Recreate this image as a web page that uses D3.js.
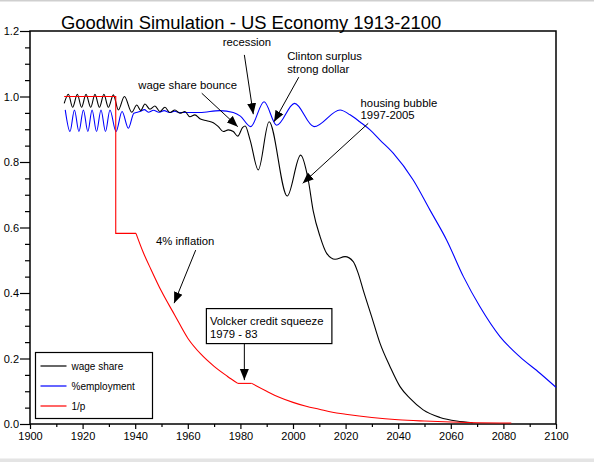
<!DOCTYPE html>
<html>
<head>
<meta charset="utf-8">
<script src="https://cdn.jsdelivr.net/npm/d3@7"></script>
<style>
  body { margin: 0; background: #fff; }
  text { font-family: "Liberation Sans", Arial, Helvetica, sans-serif; }
</style>
</head>
<body>
<svg id="chart" width="594" height="462"></svg>
<script>
// wage share (black) as [year, value]
var wageShare = [
  [1913.0, 0.979], [1914.6, 1.007], [1916.2, 0.967], [1918.0, 1.007], [1919.6, 0.967],
  [1921.3, 1.007], [1923.1, 0.967], [1924.7, 1.007], [1926.4, 0.967], [1928.1, 1.007],
  [1929.8, 0.967], [1931.7, 1.005], [1933.6, 0.959], [1935.9, 1.0], [1938.7, 0.952],
  [1940.6, 0.974], [1942.1, 0.957], [1943.7, 0.977], [1945.6, 0.961], [1947.5, 0.971],
  [1949.4, 0.954], [1951.3, 0.967], [1953.2, 0.951], [1955.1, 0.959], [1957.0, 0.949],
  [1958.9, 0.954], [1960.8, 0.938], [1962.7, 0.944], [1964.6, 0.932], [1967.2, 0.926],
  [1969.7, 0.92], [1971.6, 0.908], [1973.5, 0.893], [1975.4, 0.898], [1977.3, 0.893],
  [1979.0, 0.879], [1980.8, 0.905], [1981.8, 0.91], [1983.7, 0.867], [1986.8, 0.776],
  [1990.9, 0.923], [1997.8, 0.696], [2002.9, 0.821], [2005.8, 0.745], [2007.7, 0.65],
  [2010.3, 0.572], [2012.8, 0.521], [2016.0, 0.503], [2019.8, 0.511], [2022.9, 0.496],
  [2024.8, 0.46], [2026.7, 0.409], [2029.9, 0.328], [2033.1, 0.246], [2036.9, 0.175],
  [2040.7, 0.114], [2044.5, 0.078], [2049.5, 0.043], [2055.9, 0.020], [2062.2, 0.009],
  [2068.3, 0.004]
];

// %employment (blue)
var employment = [
  [1913.4, 0.959], [1915.2, 0.893], [1916.9, 0.959], [1918.6, 0.893], [1920.3, 0.959],
  [1922.0, 0.893], [1923.6, 0.959], [1925.3, 0.893], [1927.0, 0.959], [1928.7, 0.893],
  [1930.4, 0.959], [1932.7, 0.893], [1935.0, 0.954], [1937.4, 0.903], [1939.5, 0.949],
  [1941.8, 0.954], [1943.5, 0.96], [1945.0, 0.952], [1947.0, 0.958], [1949.0, 0.952],
  [1951.0, 0.957], [1953.0, 0.951], [1955.0, 0.955], [1957.0, 0.951], [1964.6, 0.951],
  [1972.2, 0.957], [1977.3, 0.951], [1980.0, 0.94], [1983.9, 0.908], [1989.0, 0.984],
  [1993.8, 0.912], [2000.6, 0.979], [2008.0, 0.908], [2017.9, 0.959], [2021.7, 0.944],
  [2025.5, 0.922], [2029.3, 0.898], [2033.1, 0.867], [2038.1, 0.827], [2045.7, 0.745],
  [2052.1, 0.653], [2058.4, 0.562], [2064.8, 0.450], [2071.1, 0.358], [2078.7, 0.267],
  [2086.3, 0.205], [2093.9, 0.155], [2100.0, 0.112]
];

// 1/p (red): flat, drop, flat, decline, Volcker flat, decline
var invPriceSteps = [
  [[1913, 1.0], [1932.6, 1.0], [1932.6, 0.582], [1940.3, 0.582]],
  [[1979, 0.124], [1984.3, 0.124]]
];
var invPriceCurves = [
  [[1940.3, 0.582], [1943, 0.525], [1946, 0.472], [1950, 0.405], [1955, 0.333],
   [1960, 0.262], [1965, 0.213], [1970, 0.176], [1975, 0.146], [1979, 0.124]],
  [[1984.3, 0.124], [1990, 0.1], [1995, 0.081], [2000, 0.066], [2005, 0.054],
   [2010, 0.045], [2015, 0.036], [2020, 0.03], [2030, 0.02], [2040, 0.013],
   [2050, 0.009], [2060, 0.006], [2070, 0.004], [2083, 0.003]]
];

var seriesNames = ["wage share", "%employment", "1/p"];
var seriesColors = ["#000000", "#0000ff", "#ff0000"];

var xMajor = d3.range(1900, 2101, 20);
var xMinor = d3.range(1910, 2100, 20);
var yMajor = [0, 0.2, 0.4, 0.6, 0.8, 1.0, 1.2];
var yMinor = d3.range(0.05, 1.2, 0.05).filter(function(v) { return Math.abs(v * 5 - Math.round(v * 5)) > 0.01; });

// annotation texts, anchored in data coordinates
var notes = [
  { lines: ["wage share bounce"], x: 1941.2, y: 1.023 },
  { lines: ["recession"], x: 1973.3, y: 1.154 },
  { lines: ["Clinton surplus", "strong dollar"], x: 1997.8, y: 1.111 },
  { lines: ["housing bubble", "1997-2005"], x: 2025.7, y: 0.968 },
  { lines: ["4% inflation"], x: 1947.9, y: 0.547 },
  { lines: ["Volcker credit squeeze", "1979 - 83"], x: 1968.4, y: 0.302, box: true }
];
// arrows: [from, to]
var arrows = [
  [[1965.3, 1.010], [1979.0, 0.908]],
  [[1981.5, 1.127], [1984.9, 0.946]],
  [[2002.2, 1.059], [1992.8, 0.923]],
  [[2028.6, 0.918], [2003.7, 0.735]],
  [[1963.0, 0.531], [1954.8, 0.369]],
  [[1981.5, 0.246], [1981.5, 0.134]]
];

var svg = d3.select("#chart");
var x = d3.scaleLinear().domain([1900, 2100]).range([30, 556]);
var y = d3.scaleLinear().domain([0, 1.2]).range([424, 31]);

// window frame bits
svg.append("rect").attr("x", 0).attr("y", 0).attr("width", 594).attr("height", 1.5).style("fill", "#cfcfcf");
svg.append("rect").attr("x", 0).attr("y", 458.5).attr("width", 594).attr("height", 4).style("fill", "#e4e4e4");

svg.append("text")
  .attr("x", 61).attr("y", 29)
  .style("font-size", "18.4px")
  .text("Goodwin Simulation - US Economy 1913-2100");

// axes
svg.append("g").attr("transform", "translate(0,424)")
  .call(d3.axisBottom(x).tickValues(xMajor).tickSize(5).tickPadding(3).tickFormat(d3.format("d")));
svg.append("g").attr("transform", "translate(0,424)")
  .call(d3.axisBottom(x).tickValues(xMinor).tickSize(3).tickFormat(""));
svg.append("g").attr("transform", "translate(30,0)")
  .call(d3.axisLeft(y).tickValues(yMajor).tickSize(10).tickPadding(1).tickFormat(d3.format(".1f")));
svg.append("g").attr("transform", "translate(30,0)")
  .call(d3.axisLeft(y).tickValues(yMinor).tickSize(5).tickFormat(""));
svg.selectAll(".domain").remove();
svg.selectAll(".tick line").style("stroke", "#000").style("stroke-width", 1.2);
svg.selectAll(".tick text")
  .style("font-family", "'Liberation Sans', Arial, sans-serif")
  .style("font-size", "11px").style("fill", "#000");

// plot frame
svg.append("rect")
  .attr("x", x(1900)).attr("y", y(1.2))
  .attr("width", x(2100) - x(1900)).attr("height", y(0) - y(1.2))
  .style("fill", "none").style("stroke", "#000").style("stroke-width", 1.5);

// series
var smooth = d3.line().x(function(d) { return x(d[0]); }).y(function(d) { return y(d[1]); }).curve(d3.curveMonotoneX);
var straight = d3.line().x(function(d) { return x(d[0]); }).y(function(d) { return y(d[1]); });

svg.append("path").attr("d", smooth(employment))
  .style("fill", "none").style("stroke", seriesColors[1]).style("stroke-width", 1.1);
svg.append("path").attr("d", smooth(wageShare))
  .style("fill", "none").style("stroke", seriesColors[0]).style("stroke-width", 1.1);
svg.append("g").selectAll("path").data(invPriceSteps).enter().append("path")
  .attr("d", straight)
  .style("fill", "none").style("stroke", seriesColors[2]).style("stroke-width", 1.1);
svg.append("g").selectAll("path").data(invPriceCurves).enter().append("path")
  .attr("d", smooth)
  .style("fill", "none").style("stroke", seriesColors[2]).style("stroke-width", 1.1);

// arrowhead
svg.append("defs").append("marker").attr("id", "head")
  .attr("markerUnits", "userSpaceOnUse")
  .attr("markerWidth", 12).attr("markerHeight", 10)
  .attr("viewBox", "0 -5 12 10").attr("refX", 11).attr("refY", 0)
  .attr("orient", "auto")
  .append("path").attr("d", "M0,-4.5L11,0L0,4.5Z").style("fill", "#000");

svg.append("g").selectAll("line").data(arrows).enter().append("line")
  .attr("x1", function(d) { return x(d[0][0]); })
  .attr("y1", function(d) { return y(d[0][1]); })
  .attr("x2", function(d) { return x(d[1][0]); })
  .attr("y2", function(d) { return y(d[1][1]); })
  .style("stroke", "#000").style("stroke-width", 1)
  .attr("marker-end", "url(#head)");

// annotation texts
var ng = svg.append("g").selectAll("g").data(notes).enter().append("g");
ng.filter(function(d) { return d.box; }).append("rect")
  .attr("x", function(d) { return x(d.x) - 3.5; })
  .attr("y", function(d) { return y(d.y) - 16.5; })
  .attr("width", 125.5).attr("height", 35)
  .style("fill", "#fff").style("stroke", "#000").style("stroke-width", 1.2);
ng.each(function(d) {
  var t = d3.select(this).append("text")
    .attr("x", x(d.x)).attr("y", y(d.y))
    .style("font-size", "11.3px");
  d.lines.forEach(function(s, i) {
    t.append("tspan").attr("x", x(d.x)).attr("dy", i ? 12.5 : 0).text(s);
  });
});

// legend
var leg = svg.append("g").attr("transform", "translate(35.5,352.5)");
leg.append("rect").attr("width", 117).attr("height", 66)
  .style("fill", "#fff").style("stroke", "#000").style("stroke-width", 1.2);
var li = leg.selectAll("g").data(seriesNames).enter().append("g")
  .attr("transform", function(d, i) { return "translate(0," + (13.5 + i * 20) + ")"; });
li.append("line").attr("x1", 5).attr("x2", 31)
  .style("stroke", function(d, i) { return seriesColors[i]; }).style("stroke-width", 1.2);
li.append("text").attr("x", 36).attr("dy", "0.35em")
  .style("font-size", "10px").text(function(d) { return d; });
</script>
</body>
</html>
